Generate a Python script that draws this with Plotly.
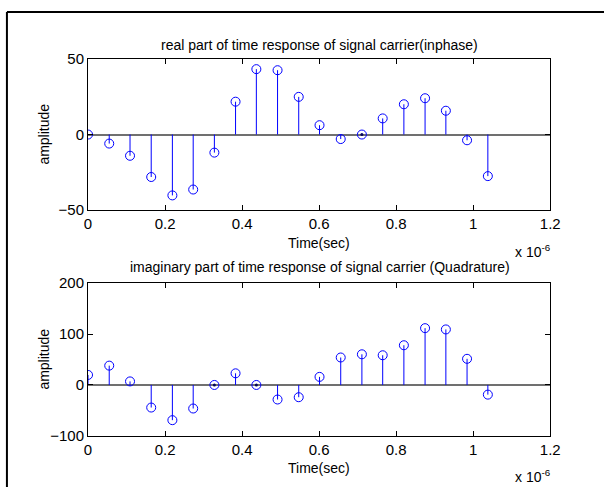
import plotly.graph_objects as go

# sample times in microseconds (axis shows x 10^-6)
t_us = [0.0, 0.055, 0.109, 0.164, 0.219, 0.273, 0.328, 0.383, 0.437, 0.492,
        0.547, 0.601, 0.656, 0.711, 0.765, 0.820, 0.875, 0.929, 0.984, 1.038]
inphase = [0, -6.0, -14.1, -28.2, -40.4, -36.5, -12.0, 21.8, 43.4, 42.7,
           25.0, 6.2, -3.0, 0, 10.7, 20.1, 24.1, 15.8, -3.8, -27.6]
quadrature = [19.7, 38.0, 7.0, -44.4, -69.2, -46.3, 0, 22.9, 0, -28.6,
              -24.1, 15.9, 54.0, 60.3, 58.4, 78.1, 111.7, 109.2, 51.4, -19.0]

x_ticks = [0, 0.2, 0.4, 0.6, 0.8, 1.0, 1.2]
x_tick_text = ["0", "0.2", "0.4", "0.6", "0.8", "1", "1.2"]
y1_ticks = [-50, 0, 50]
y2_ticks = [-100, 0, 100, 200]

title1 = "real part of time response of signal carrier(inphase)"
title2 = "imaginary part of time response of signal carrier (Quadrature)"

W, H = 614, 495
BLUE = "#0000FF"
FONT = "Liberation Sans, Arial, sans-serif"


def px_x(p):
    return p / W


def px_y(p):
    return 1 - p / H


def stems(xs, ys):
    sx, sy = [], []
    for a, b in zip(xs, ys):
        sx += [a, a, None]
        sy += [0, b, None]
    return sx, sy


fig = go.Figure()
for vals, xa, ya in [(inphase, "x", "y"), (quadrature, "x2", "y2")]:
    sx, sy = stems(t_us, vals)
    fig.add_trace(go.Scatter(x=sx, y=sy, mode="lines", xaxis=xa, yaxis=ya,
                             line=dict(color=BLUE, width=1), showlegend=False,
                             hoverinfo="skip"))
    fig.add_trace(go.Scatter(x=t_us, y=vals, mode="markers", xaxis=xa, yaxis=ya,
                             marker=dict(symbol="circle-open", size=9,
                                         color=BLUE, line=dict(width=1, color=BLUE)),
                             showlegend=False))
    # zero-length stems show as a small dot inside the marker (skip first sample)
    zx = [a for i, (a, b) in enumerate(zip(t_us, vals)) if b == 0 and i > 0]
    zy = [0 for _ in zx]
    fig.add_trace(go.Scatter(x=zx, y=zy, mode="markers", xaxis=xa, yaxis=ya,
                             marker=dict(symbol="circle", size=3, color="#000060"),
                             showlegend=False, hoverinfo="skip"))

xdom = [px_x(86), px_x(559)]
axis_common = dict(showline=True, linecolor="black", linewidth=1, mirror="ticks",
                   ticks="inside", ticklen=5, tickcolor="black", showgrid=False,
                   tickfont=dict(family=FONT, size=15, color="black"))

fig.update_layout(
    width=W, height=H, margin=dict(l=0, r=0, t=0, b=0),
    paper_bgcolor="white", plot_bgcolor="white",
    xaxis=dict(domain=xdom, range=[0, 1.2], tickvals=x_ticks, ticktext=x_tick_text,
               zeroline=False, anchor="y", **axis_common),
    yaxis=dict(domain=[px_y(208), px_y(52)], range=[-50, 50], tickvals=y1_ticks,
               zeroline=True, zerolinecolor="#707070", zerolinewidth=2,
               anchor="x", **axis_common),
    xaxis2=dict(domain=xdom, range=[0, 1.2], tickvals=x_ticks, ticktext=x_tick_text,
                zeroline=False, anchor="y2", **axis_common),
    yaxis2=dict(domain=[px_y(442), px_y(284)], range=[-100, 200], tickvals=y2_ticks,
                zeroline=True, zerolinecolor="#707070", zerolinewidth=2,
                anchor="x2", **axis_common),
)

tf = dict(family=FONT, size=14, color="black")
annos = [
    (323, 37, title1, 0),
    (322, 242, "Time(sec)", 0),
    (541, 251, "x 10<sup>-6</sup>", 0),
    (40, 130, "amplitude", -90),
    (323, 267, title2, 0),
    (322, 475, "Time(sec)", 0),
    (541, 484, "x 10<sup>-6</sup>", 0),
    (40, 363, "amplitude", -90),
]
for x, y, text, ang in annos:
    fig.add_annotation(x=px_x(x), y=px_y(y), xref="paper", yref="paper", text=text,
                       showarrow=False, xanchor="center", yanchor="middle",
                       textangle=ang, font=tf)

# outer figure frame: only the top and left edges are visible
frame = dict(color="black", width=2)
fig.add_shape(type="line", xref="paper", yref="paper", x0=px_x(3), y0=px_y(3),
              x1=1.0, y1=px_y(3), line=frame)
fig.add_shape(type="line", xref="paper", yref="paper", x0=px_x(3), y0=px_y(3),
              x1=px_x(3), y1=0.0, line=frame)

fig.write_html("out.html")
